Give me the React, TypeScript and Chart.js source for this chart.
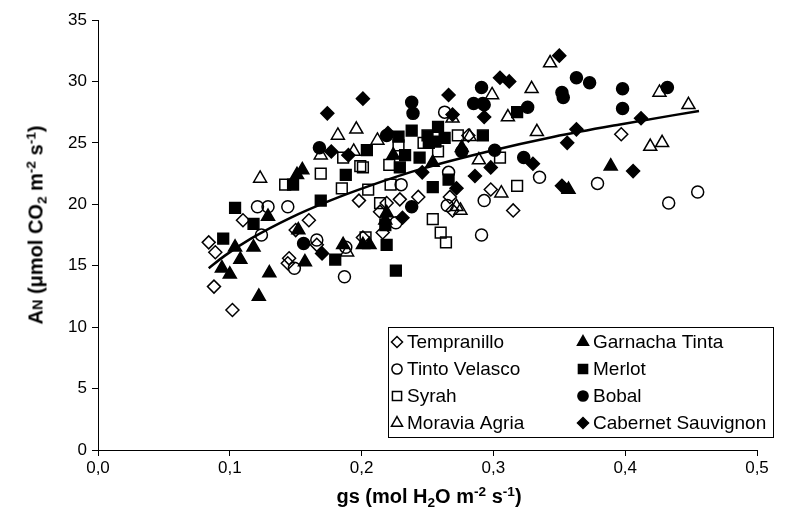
import React, { useEffect, useRef } from 'react';
import { Chart, registerables } from 'chart.js';

Chart.register(...registerables);

const FONT = '"Liberation Sans", Arial, Helvetica, sans-serif';

// ---- data ----
const seriesNames = [
  'Tempranillo',
  'Tinto Velasco',
  'Syrah',
  'Moravia Agria',
  'Garnacha Tinta',
  'Merlot',
  'Bobal',
  'Cabernet Sauvignon',
];

const tempranilloGs = [0.084, 0.089, 0.088, 0.102, 0.110, 0.198, 0.160, 0.150, 0.166, 0.145, 0.144, 0.201, 0.219, 0.214, 0.216, 0.281, 0.298, 0.229, 0.243, 0.267, 0.269, 0.315, 0.397];
const tempranilloAn = [16.9, 16.1, 13.3, 11.4, 18.7, 20.3, 18.7, 17.9, 16.7, 15.6, 15.2, 17.3, 20.1, 19.4, 17.7, 25.6, 21.2, 20.4, 20.6, 20.6, 19.5, 19.5, 25.7];

const tintoGs = [0.121, 0.129, 0.144, 0.124, 0.166, 0.188, 0.149, 0.187, 0.263, 0.266, 0.230, 0.293, 0.265, 0.226, 0.291, 0.335, 0.379, 0.433, 0.455];
const tintoAn = [19.8, 19.8, 19.8, 17.5, 17.1, 16.5, 14.8, 14.1, 27.5, 22.6, 21.6, 20.3, 19.9, 18.5, 17.5, 22.2, 21.7, 20.1, 21.0];

const syrahGs = [0.142, 0.169, 0.185, 0.205, 0.214, 0.203, 0.221, 0.228, 0.247, 0.273, 0.258, 0.305, 0.222, 0.318, 0.254, 0.260, 0.264, 0.186, 0.199, 0.201];
const syrahAn = [21.6, 22.5, 21.3, 21.2, 20.1, 17.3, 23.2, 24.8, 25.0, 25.6, 24.3, 23.8, 21.6, 21.5, 18.8, 17.7, 16.9, 23.8, 23.1, 23.0];

const moraviaGs = [0.123, 0.189, 0.269, 0.311, 0.282, 0.289, 0.306, 0.272, 0.275, 0.343, 0.329, 0.426, 0.448, 0.333, 0.419, 0.428, 0.196, 0.182, 0.212, 0.169, 0.194, 0.299];
const moraviaAn = [22.1, 16.1, 27.0, 27.1, 25.5, 23.6, 20.9, 19.8, 19.5, 31.5, 29.4, 29.1, 28.1, 25.9, 24.7, 25.0, 26.1, 25.6, 25.2, 24.0, 24.3, 28.9];

const garnachaGs = [0.104, 0.108, 0.094, 0.100, 0.118, 0.122, 0.155, 0.151, 0.129, 0.152, 0.186, 0.157, 0.130, 0.201, 0.206, 0.219, 0.224, 0.276, 0.254, 0.389, 0.357, 0.218];
const garnachaAn = [16.5, 15.5, 14.8, 14.3, 16.5, 12.5, 22.8, 22.4, 19.0, 17.9, 16.7, 15.3, 14.4, 16.7, 16.7, 19.3, 24.0, 24.6, 23.4, 23.1, 21.2, 18.7];

const merlotGs = [0.104, 0.095, 0.118, 0.148, 0.188, 0.169, 0.180, 0.219, 0.226, 0.218, 0.318, 0.238, 0.258, 0.228, 0.250, 0.251, 0.256, 0.263, 0.292, 0.233, 0.244, 0.229, 0.266, 0.254, 0.204];
const merlotAn = [19.7, 17.2, 18.4, 21.6, 22.4, 20.3, 15.5, 16.7, 14.6, 18.3, 27.5, 26.0, 26.3, 25.5, 25.6, 25.0, 25.1, 25.4, 25.6, 24.0, 23.8, 23.0, 22.0, 21.4, 24.4];

const bobalGs = [0.156, 0.239, 0.238, 0.326, 0.285, 0.292, 0.276, 0.301, 0.323, 0.238, 0.363, 0.373, 0.352, 0.353, 0.398, 0.432, 0.398, 0.219, 0.168, 0.291, 0.293];
const bobalAn = [16.8, 27.4, 28.3, 27.9, 28.2, 28.2, 24.3, 24.4, 23.8, 19.8, 30.3, 29.9, 29.1, 28.7, 29.4, 29.5, 27.8, 25.6, 24.6, 29.5, 28.1];

const cabernetGs = [0.170, 0.220, 0.293, 0.298, 0.246, 0.286, 0.272, 0.231, 0.350, 0.312, 0.305, 0.363, 0.412, 0.356, 0.330, 0.406, 0.352, 0.201, 0.174, 0.177, 0.190, 0.266, 0.269];
const cabernetAn = [16.0, 25.8, 27.1, 23.0, 22.6, 22.3, 21.3, 18.9, 32.1, 30.0, 30.3, 26.1, 27.0, 25.0, 23.3, 22.7, 21.5, 28.6, 27.4, 24.3, 24.0, 28.9, 27.3];

// fitted trend curve
const trendGs = [0.084, 0.096, 0.116, 0.146, 0.176, 0.206, 0.246, 0.296, 0.346, 0.396, 0.456];
const trendAn = [14.8, 15.8, 17.2, 18.9, 20.3, 21.5, 22.9, 24.3, 25.5, 26.5, 27.6];

const xTicks = [0, 0.1, 0.2, 0.3, 0.4, 0.5];
const yTicks = [0, 5, 10, 15, 20, 25, 30, 35];

const seriesGs = [tempranilloGs, tintoGs, syrahGs, moraviaGs, garnachaGs, merlotGs, bobalGs, cabernetGs];
const seriesAn = [tempranilloAn, tintoAn, syrahAn, moraviaAn, garnachaAn, merlotAn, bobalAn, cabernetAn];

// ---- styles ----
const markerStyles = [
  { shape: 'rectRot', filled: false, radius: 6.5 },
  { shape: 'circle', filled: false, radius: 6 },
  { shape: 'rect', filled: false, radius: 7.6 },
  { shape: 'triangle', filled: false, radius: 7.5 },
  { shape: 'triangle', filled: true, radius: 7.5 },
  { shape: 'rect', filled: true, radius: 7.6 },
  { shape: 'circle', filled: true, radius: 6 },
  { shape: 'rectRot', filled: true, radius: 6.5 },
];

function drawMarker(ctx: CanvasRenderingContext2D, shape: string, x: number, y: number, r: number, filled: boolean) {
  ctx.beginPath();
  if (shape === 'circle') {
    ctx.arc(x, y, r, 0, Math.PI * 2);
  } else if (shape === 'rect') {
    const s = r * Math.SQRT1_2;
    ctx.rect(x - s, y - s, 2 * s, 2 * s);
  } else if (shape === 'rectRot') {
    ctx.moveTo(x, y - r);
    ctx.lineTo(x + r, y);
    ctx.lineTo(x, y + r);
    ctx.lineTo(x - r, y);
    ctx.closePath();
  } else {
    ctx.moveTo(x, y - r);
    ctx.lineTo(x + r * 0.866, y + r / 2);
    ctx.lineTo(x - r * 0.866, y + r / 2);
    ctx.closePath();
  }
  if (filled) {
    ctx.fillStyle = '#000';
    ctx.fill();
  }
  ctx.lineWidth = 1.5;
  ctx.strokeStyle = '#000';
  ctx.stroke();
}

const boxLegend = {
  id: 'boxLegend',
  afterDraw(chart: any) {
    const ctx: CanvasRenderingContext2D = chart.ctx;
    ctx.save();
    const bx = 388, by = 327, bw = 385, bh = 110;
    ctx.fillStyle = '#fff';
    ctx.fillRect(bx, by, bw, bh);
    ctx.strokeStyle = '#000';
    ctx.lineWidth = 1;
    ctx.strokeRect(bx + 0.5, by + 0.5, bw, bh);
    ctx.font = `19px ${FONT}`;
    ctx.textBaseline = 'middle';
    seriesNames.forEach((name, i) => {
      const col = i < 4 ? 0 : 1;
      const row = i % 4;
      const mx = col === 0 ? 397 : 583;
      const y = by + 15 + row * 27;
      const st = markerStyles[i];
      drawMarker(ctx, st.shape, mx, y, st.radius * 0.85, st.filled);
      ctx.fillStyle = '#000';
      ctx.fillText(name, mx + 10, y + 1);
    });
    ctx.restore();
  },
};

export default function App() {
  const ref = useRef<HTMLCanvasElement | null>(null);

  useEffect(() => {
    if (!ref.current) return;
    const datasets: any[] = seriesNames.map((name, i) => ({
      label: name,
      data: seriesGs[i].map((g, j) => ({ x: g, y: seriesAn[i][j] })),
      pointStyle: markerStyles[i].shape,
      pointRadius: markerStyles[i].radius,
      pointHoverRadius: markerStyles[i].radius,
      pointBackgroundColor: markerStyles[i].filled ? '#000' : 'rgba(0,0,0,0)',
      pointBorderColor: '#000',
      pointBorderWidth: 1.5,
      showLine: false,
      order: i,
    }));
    datasets.push({
      label: 'trend',
      data: trendGs.map((g, j) => ({ x: g, y: trendAn[j] })),
      showLine: true,
      pointRadius: 0,
      borderColor: '#000',
      borderWidth: 2.5,
      cubicInterpolationMode: 'monotone',
      fill: false,
      order: -1,
    });

    const tickFont = { family: FONT, size: 17 };
    const chart = new Chart(ref.current, {
      type: 'scatter',
      data: { datasets },
      options: {
        animation: false,
        responsive: false,
        maintainAspectRatio: false,
        devicePixelRatio: 1,
        layout: { padding: { left: 0, right: 39, top: 20, bottom: 0 } },
        plugins: {
          legend: { display: false },
          tooltip: { enabled: false },
        },
        scales: {
          x: {
            type: 'linear',
            min: xTicks[0],
            max: xTicks[xTicks.length - 1],
            afterBuildTicks: (scale: any) => {
              scale.ticks = xTicks.map((v) => ({ value: v }));
            },
            ticks: {
              color: '#000',
              font: tickFont,
              padding: 2,
              maxRotation: 0,
              autoSkip: false,
              callback: (v: any) => Number(v).toFixed(1).replace('.', ','),
            },
            grid: { drawOnChartArea: false, drawTicks: true, tickLength: 6, color: '#000', lineWidth: 1 },
            border: { display: true, color: '#000', width: 1 },
            afterFit: (scale: any) => {
              scale.height = 65;
            },
          },
          y: {
            type: 'linear',
            min: yTicks[0],
            max: yTicks[yTicks.length - 1],
            afterBuildTicks: (scale: any) => {
              scale.ticks = yTicks.map((v) => ({ value: v }));
            },
            ticks: {
              color: '#000',
              font: tickFont,
              padding: 5,
              autoSkip: false,
              callback: (v: any) => String(v),
            },
            grid: { drawOnChartArea: false, drawTicks: true, tickLength: 6, color: '#000', lineWidth: 1 },
            border: { display: true, color: '#000', width: 1 },
            afterFit: (scale: any) => {
              scale.width = 98;
            },
          },
        },
      } as any,
      plugins: [boxLegend],
    });
    return () => chart.destroy();
  }, []);

  const subStyle: React.CSSProperties = { fontSize: '0.68em', position: 'relative', top: '0.3em' };
  const supStyle: React.CSSProperties = { fontSize: '0.68em', position: 'relative', top: '-0.5em' };

  return (
    <div style={{ position: 'absolute', left: 0, top: 0, width: 796, height: 515, background: '#fff', fontFamily: FONT }}>
      <canvas ref={ref} width={796} height={515} style={{ width: 796, height: 515, display: 'block' }} />
      <div
        style={{
          position: 'absolute',
          left: 429,
          top: 497,
          transform: 'translate(-50%, -50%)',
          whiteSpace: 'nowrap',
          fontWeight: 'bold',
          fontSize: 20,
          lineHeight: '22px',
          color: '#000',
        }}
      >
        gs (mol H<span style={subStyle}>2</span>O m<span style={supStyle}>-2</span> s<span style={supStyle}>-1</span>)
      </div>
      <div
        style={{
          position: 'absolute',
          left: 37,
          top: 225,
          transform: 'translate(-50%, -50%) rotate(-90deg)',
          whiteSpace: 'nowrap',
          fontWeight: 'bold',
          fontSize: 20,
          lineHeight: '22px',
          color: '#000',
        }}
      >
        A<span style={{ fontSize: '0.72em' }}>N</span> (μmol CO<span style={subStyle}>2</span> m<span style={supStyle}>-2</span> s<span style={supStyle}>-1</span>)
      </div>
    </div>
  );
}
